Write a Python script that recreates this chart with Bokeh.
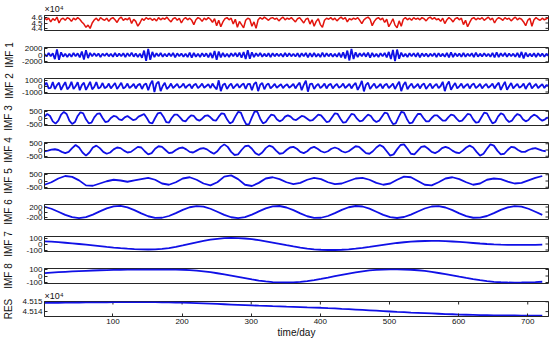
import math
from bokeh.plotting import figure
from bokeh.layouts import column
from bokeh.models import FixedTicker, Range1d
from bokeh.embed import file_html
from bokeh.resources import INLINE

# ---------------- data ----------------
days3 = list(range(1, 731, 3))    # 244 samples
days4 = list(range(1, 730, 4))    # 183 samples
days5 = list(range(1, 727, 5))    # 146 samples
days10 = list(range(1, 722, 10))  # 73 samples

signal = [  # x10^4
    4.60, 4.56, 4.59, 4.52, 4.58, 4.55, 4.61, 4.50, 4.57, 4.59,
    4.55, 4.60, 4.58, 4.53, 4.59, 4.56, 4.60, 4.57, 4.52, 4.48,
    4.42, 4.46, 4.40, 4.50, 4.56, 4.59, 4.54, 4.60, 4.57, 4.55,
    4.59, 4.53, 4.58, 4.60, 4.56, 4.51, 4.58, 4.61, 4.55, 4.58,
    4.56, 4.60, 4.49, 4.57, 4.53, 4.44, 4.50, 4.58, 4.55, 4.60,
    4.57, 4.59, 4.55, 4.58, 4.54, 4.60, 4.56, 4.59, 4.57, 4.61,
    4.56, 4.52, 4.58, 4.60, 4.55, 4.59, 4.50, 4.57, 4.60, 4.56,
    4.59, 4.55, 4.47, 4.56, 4.60, 4.58, 4.53, 4.59, 4.56, 4.60,
    4.57, 4.51, 4.58, 4.45, 4.55, 4.43, 4.52, 4.58, 4.60, 4.56,
    4.59, 4.48, 4.57, 4.42, 4.53, 4.47, 4.41, 4.55, 4.59, 4.57,
    4.44, 4.52, 4.40, 4.56, 4.60, 4.57, 4.61, 4.58, 4.55, 4.59,
    4.60, 4.57, 4.59, 4.54, 4.58, 4.61, 4.56, 4.59, 4.57, 4.60,
    4.56, 4.52, 4.58, 4.60, 4.55, 4.50, 4.57, 4.59, 4.48, 4.56,
    4.44, 4.53, 4.58, 4.47, 4.42, 4.55, 4.59, 4.57, 4.60, 4.56,
    4.59, 4.54, 4.58, 4.61, 4.57, 4.60, 4.52, 4.58, 4.56, 4.59,
    4.57, 4.60, 4.55, 4.49, 4.56, 4.59, 4.61, 4.57, 4.45, 4.53,
    4.58, 4.60, 4.56, 4.59, 4.51, 4.57, 4.43, 4.50, 4.58, 4.46,
    4.41, 4.54, 4.44, 4.57, 4.60, 4.56, 4.59, 4.55, 4.60, 4.57,
    4.59, 4.56, 4.60, 4.58, 4.54, 4.59, 4.61, 4.57, 4.60, 4.56,
    4.58, 4.53, 4.59, 4.49, 4.56, 4.60, 4.57, 4.52, 4.58, 4.60,
    4.56, 4.59, 4.47, 4.55, 4.43, 4.51, 4.58, 4.60, 4.56, 4.59,
    4.57, 4.60, 4.55, 4.58, 4.61, 4.56, 4.59, 4.50, 4.57, 4.60,
    4.58, 4.55, 4.60, 4.57, 4.59, 4.54, 4.58, 4.61, 4.56, 4.59,
    4.57, 4.52, 4.45, 4.55, 4.59, 4.44, 4.56, 4.60, 4.57, 4.55,
    4.59, 4.56, 4.58, 4.60,
]

imf1 = [
    300, -450, 600, -350, 500, -1200, 1600, -1400, 800, -500,
    400, -600, 350, -500, 600, -400, 500, -700, 1000, -1300,
    1400, -900, 600, -400, 500, -350, 450, -600, 400, -300,
    500, -400, 350, -500, 600, -450, 400, -350, 500, -600,
    550, -400, 700, -500, 450, -600, 400, -800, 1300, -1700,
    1800, -1400, 900, -600, 500, -400, 600, -500, 350, -450,
    500, -400, 600, -700, 500, -350, 450, -500, 400, -600,
    700, -800, 600, -500, 400, -600, 550, -450, 500, -700,
    600, -900, 1200, -1400, 1000, -700, 600, -500, 400, -600,
    500, -400, 600, -500, 700, -800, 900, -1200, 1400, -1100,
    800, -600, 500, -400, 600, -500, 400, -450, 500, -600,
    500, -400, 450, -350, 400, -500, 600, -450, 500, -400,
    350, -450, 500, -600, 500, -400, 600, -700, 550, -500,
    600, -500, 400, -600, 700, -550, 500, -400, 450, -500,
    400, -500, 600, -700, 800, -1000, 1300, -1600, 1800, -1200,
    800, -600, 500, -400, 600, -500, 700, -800, 600, -500,
    400, -600, 500, -400, 600, -700, 900, -1200, 1500, -1800,
    1600, -1100, 700, -500, 400, -600, 500, -400, 550, -500,
    600, -700, 500, -400, 450, -500, 400, -350, 500, -600,
    550, -450, 400, -500, 600, -700, 800, -600, 500, -400,
    450, -500, 600, -500, 400, -350, 500, -600, 700, -500,
    400, -450, 500, -400, 350, -500, 600, -700, 800, -600,
    500, -400, 600, -500, 450, -350, 400, -500, 600, -700,
    900, -1000, 700, -500, 400, -450, 500, -600, 500, -400,
    450, -500, 400, -300,
]

imf2 = [
    150, 550, -400, -300, 650, -500, 150, 550, -650, 50,
    650, -550, -150, 700, -500, -50, 650, -700, 150, 550,
    -650, 0, 700, -550, -150, 650, -400, -200, 500, -350,
    -150, 400, -400, 50, 500, -500, 0, 550, -400, -150,
    400, -350, -50, 350, -400, 150, 350, -500, 200, 400,
    -700, 300, 900, -1000, 400, 700, -850, 0, 550, -500,
    -150, 400, -350, 0, 350, -300, -50, 400, -350, 50,
    300, -400, 150, 350, -350, -50, 400, -300, 0, 300,
    -350, 400, -150, -550, 950, -850, 150, 400, -500, 50,
    400, -400, 0, 350, -300, 150, 400, -500, 300, 350,
    -700, 300, 650, -850, 200, 500, -550, 150, 400, -400,
    -50, 350, -300, 0, 300, -350, 50, 300, -300, 0,
    350, -400, 150, 550, -700, 200, 900, -950, 300, 400,
    -500, 50, 350, -350, -50, 400, -400, 150, 350, -400,
    50, 350, -300, -50, 400, -350, 0, 350, -400, 150,
    500, -650, 0, 850, -900, 200, 550, -500, 0, 400,
    -350, -50, 350, -400, 150, 350, -350, 0, 400, -500,
    150, 700, -850, 150, 650, -550, 0, 400, -350, -50,
    350, -400, 150, 400, -500, 0, 400, -400, 50, 350,
    -350, 0, 700, -850, 200, 750, -650, 0, 500, -400,
    -50, 400, -350, 50, 350, -400, 150, 400, -350, -50,
    350, -400, 50, 350, -300, 0, 400, -400, 150, 550,
    -650, 50, 700, -650, -50, 500, -400, 0, 350, -300,
    -50, 400, -500, 150, 500, -400, 0, 350, -350, 0,
    300, -350, 150, 50,
]

imf3 = [
    100, 300, 150, -250, -420, -200, 250, 450, 300, -200, -450, -300,
    150, 430, 350, -100, -400, -350, 50, 300, 350, 0, -300, -250,
    0, 150, 100, -100, -150, 50, 150, 0, -150, -100, 100, 200,
    300, 0, -350, -400, 0, 350, 400, 100, -300, -350, 0, 250,
    250, 50, -200, -250, 0, 200, 150, -100, -200, -50, 150, 200,
    50, -150, -200, 100, 350, 300, -100, -400, -300, 100, 450, 400,
    -100, -500, -450, 50, 500, 450, -50, -400, -300, 0, 250, 200,
    -100, -250, -150, 100, 200, 100, -100, -150, 0, 150, 100, -50,
    -200, -150, 50, 250, 200, -50, -300, -250, 50, 350, 300, -50,
    -350, -300, 0, 300, 250, -50, -250, -200, 50, 250, 150, -150,
    -300, -200, 100, 400, 350, -100, -450, -400, 50, 450, 400, -50,
    -400, -350, 0, 300, 300, 0, -250, -250, 0, 200, 200, 0,
    -200, -200, 50, 250, 200, -50, -250, -200, 50, 300, 250, -100,
    -350, -300, 50, 400, 350, -50, -400, -300, 100, 350, 250, -100,
    -300, -200, 100, 300, 200, -100, -250, -150, 100, 250, 150, -50,
    -200, -100, 50,
]

imf4 = [
    -100, -50, 30, 60, 0, -150, -250, -150,
    150, 400, 200, -200, -450, -200, 200, 350,
    150, -150, -300, -200, 50, 200, 150, -50,
    -200, -150, 50, 250, 200, -100, -350, -250,
    100, 300, 250, 0, -250, -200, 0, 150,
    200, 50, -150, -200, -50, 100, 150, 50,
    -150, -300, -100, 250, 450, 250, -150, -400,
    -350, 0, 300, 350, 100, -250, -400, -200,
    150, 350, 250, -50, -300, -250, 0, 200,
    250, 100, -150, -250, -100, 150, 250, 100,
    -100, -200, -100, 100, 200, 100, -100, -200,
    -100, 100, 300, 250, 0, -250, -300, -100,
    200, 400, 250, -100, -450, -350, 50, 400,
    450, 100, -300, -350, -50, 250, 300, 100,
    -150, -250, -100, 150, 250, 150, -50, -200,
    -250, -50, 200, 350, 200, -150, -450, -300,
    100, 450, 350, -50, -350, -300, 0, 250,
    200, 0, -150, -150, 0, 100, 150, 50,
    -50, -100,
]

imf5 = [
    -300, -100, 200, 400, 330, 50, -350, -380, -200, -20,
    100, 40, -60, 50, 150, 250, 100, -200, -300, -100,
    200, 300, 100, -200, -350, -100, 350, 450, 150, -300,
    -400, -150, 200, 300, 150, -100, -250, -150, 100, 250,
    150, -100, -250, -200, 0, 200, 250, 100, -150, -300,
    -200, 100, 350, 300, 0, -300, -350, -100, 200, 300,
    150, -100, -300, -200, 100, 200, 150, -50, -200, -150,
    50, 250, 400,
]

imf6 = [
    210, 130, 10, -115, -205, -245, -205, -105, 25, 145,
    225, 245, 185, 75, -55, -170, -235, -230, -160, -45,
    85, 190, 235, 215, 130, 10, -115, -210, -245, -205,
    -105, 25, 145, 225, 240, 180, 75, -55, -170, -235,
    -230, -160, -45, 85, 190, 240, 220, 135, 10, -115,
    -205, -240, -200, -105, 20, 140, 220, 235, 180, 75,
    -55, -165, -230, -225, -160, -45, 85, 185, 235, 215,
    130, 10, -115,
]

imf7 = [
    45, 38, 30, 21, 11, 0, -12, -24, -36, -48,
    -59, -69, -78, -85, -90, -92, -90, -82, -68, -48,
    -24, 2, 28, 52, 72, 87, 97, 101, 99, 92,
    80, 64, 45, 24, 2, -20, -41, -60, -76, -88,
    -96, -100, -100, -96, -88, -77, -63, -47, -30, -13,
    3, 17, 29, 39, 46, 50, 52, 51, 48, 42,
    35, 26, 17, 8, 0, -6, -11, -14, -16, -16,
    -15, -13, -10,
]

imf8 = [
    45, 52, 58, 64, 70, 75, 80, 84, 88, 91,
    94, 96, 98, 99, 100, 100, 100, 100, 100, 99,
    96, 90, 82, 72, 58, 42, 25, 7, -12, -32,
    -52, -70, -84, -94, -99, -100, -97, -90, -78, -62,
    -44, -24, -3, 18, 38, 56, 72, 85, 94, 99,
    101, 101, 100, 96, 88, 77, 63, 46, 28, 9,
    -11, -30, -48, -64, -78, -89, -96, -100, -101, -100,
    -97, -93, -88,
]

res = [  # x10^4
    4.51488, 4.51489, 4.51490, 4.51491, 4.51492, 4.51493, 4.51494, 4.51494, 4.51495, 4.51495,
    4.51496, 4.51496, 4.51496, 4.51496, 4.51496, 4.51496, 4.51496, 4.51495, 4.51494, 4.51493,
    4.51491, 4.51489, 4.51487, 4.51484, 4.51481, 4.51478, 4.51475, 4.51472, 4.51469, 4.51466,
    4.51463, 4.51460, 4.51458, 4.51455, 4.51453, 4.51450, 4.51448, 4.51446, 4.51443, 4.51441,
    4.51439, 4.51435, 4.51432, 4.51428, 4.51425, 4.51421, 4.51417, 4.51413, 4.51409, 4.51405,
    4.51401, 4.51397, 4.51394, 4.51390, 4.51387, 4.51384, 4.51381, 4.51378, 4.51375, 4.51373,
    4.51370, 4.51368, 4.51366, 4.51364, 4.51363, 4.51362, 4.51361, 4.51360, 4.51360, 4.51359,
    4.51359, 4.51359, 4.51359,
]

panel_names = ["", "IMF 1", "IMF 2", "IMF 3", "IMF 4", "IMF 5", "IMF 6", "IMF 7", "IMF 8", "RES"]
panel_ticks = [[4.4, 4.5, 4.6], [-2000, 0, 2000], [-1000, 0, 1000], [-500, 0, 500],
               [-500, 0, 500], [-500, 0, 500], [-200, 0, 200], [-100, 0, 100],
               [-100, 0, 100], [4.514, 4.515]]
panel_tick_labels = [["4.4", "4.5", "4.6"], ["-2000", "0", "2000"], ["-1000", "0", "1000"],
                     ["-500", "0", "500"], ["-500", "0", "500"], ["-500", "0", "500"],
                     ["-200", "0", "200"], ["-100", "0", "100"], ["-100", "0", "100"],
                     ["4.514", "4.515"]]
panel_limits = [(4.36, 4.64), (-2200, 2200), (-1250, 1250), (-560, 560), (-600, 600),
                (-600, 600), (-300, 300), (-125, 125), (-115, 115), (4.5135, 4.51503)]
scale_note = ["×10⁴", "", "", "", "", "", "", "", "", "×10⁴"]
x_ticks = [100, 200, 300, 400, 500, 600, 700]
x_limits = (1, 730)

series = [(days3, signal), (days3, imf1), (days3, imf2), (days4, imf3), (days5, imf4),
          (days10, imf5), (days10, imf6), (days10, imf7), (days10, imf8), (days10, res)]
for xs, ys in series:
    assert len(xs) == len(ys), (len(xs), len(ys))

# ---------------- layout / styling ----------------
FONT = "Liberation Sans"
BOX = "#262626"
TXT = "#111111"
RED = "#e3140d"
BLUE = "#1010e6"
FRAME_H = 15
frame_tops = [14, 46, 77, 109, 141, 172, 203, 235, 267, 298]   # page px
TICK_PX = 8
# approx. widths (px) of the widest tick label per panel at 8px, used to line up the names
label_w = [11, 20.5, 20.5, 16, 16, 16, 16, 16, 16, 20]

n = len(series)
top_b, bot_b = [0] * n, [0] * n
top_b[0] = frame_tops[0]
for i in range(n - 1):
    gap = frame_tops[i + 1] - (frame_tops[i] + FRAME_H)
    bot_b[i] = gap // 2
    top_b[i + 1] = gap - gap // 2
# room for the "x10^4" title above the RES panel
bot_b[n - 2] -= 3
top_b[n - 1] += 3
bot_b[-1] = 21

figs = []
for i, ((xs, ys), name, ticks, tlabs, lim) in enumerate(
        zip(series, panel_names, panel_ticks, panel_tick_labels, panel_limits)):
    last = (i == n - 1)
    p = figure(frame_width=504, frame_height=FRAME_H,
               x_range=Range1d(*x_limits), y_range=Range1d(*lim),
               x_axis_location="below" if last else None,
               output_backend="svg", toolbar_location=None,
               min_border_left=41, min_border_right=5,
               min_border_top=top_b[i], min_border_bottom=bot_b[i],
               background_fill_color="white", border_fill_color="white")
    p.xgrid.visible = False
    p.ygrid.visible = False
    p.outline_line_color = BOX
    p.outline_line_width = 1

    if scale_note[i]:
        p.title.text = scale_note[i]
        p.title.text_font = FONT
        p.title.text_font_size = "9px"
        p.title.text_font_style = "normal"
        p.title.text_color = TXT
        p.title.standoff = 3 if i == 0 else 1
        p.title.align = "left"

    ya = p.yaxis[0]
    ya.ticker = FixedTicker(ticks=ticks)
    ya.major_label_overrides = {t: s for t, s in zip(ticks, tlabs)}
    ya.major_label_text_font = FONT
    ya.major_label_text_font_size = f"{TICK_PX}px"
    ya.major_label_text_color = TXT
    ya.major_label_standoff = 2
    ya.major_tick_in = 3
    ya.major_tick_out = 0
    ya.minor_tick_line_color = None
    ya.axis_line_color = BOX
    ya.major_tick_line_color = BOX
    if name:
        ya.axis_label = name
        ya.axis_label_text_font = FONT
        ya.axis_label_text_font_size = "10px"
        ya.axis_label_text_font_style = "normal"
        ya.axis_label_text_color = TXT
        ya.axis_label_standoff = int(round(25 - label_w[i]))

    # mirrored inward ticks on the right edge
    p.ray(x=[x_limits[1]] * len(ticks), y=ticks, length=3, angle=math.pi,
          length_units="screen", line_color=BOX, line_width=1)

    if last:
        xa = p.xaxis[0]
        xa.ticker = FixedTicker(ticks=x_ticks)
        xa.axis_label = "time/day"
        xa.axis_label_text_font = FONT
        xa.axis_label_text_font_size = "10px"
        xa.axis_label_text_font_style = "normal"
        xa.axis_label_text_color = TXT
        xa.axis_label_standoff = 0
        xa.major_label_text_font = FONT
        xa.major_label_text_font_size = f"{TICK_PX}px"
        xa.major_label_text_color = TXT
        xa.major_label_standoff = 2
        xa.major_tick_in = 3
        xa.major_tick_out = 0
        xa.minor_tick_line_color = None
        xa.axis_line_color = BOX
        xa.major_tick_line_color = BOX
        p.ray(x=x_ticks, y=[lim[1]] * len(x_ticks), length=3, angle=-math.pi / 2,
              length_units="screen", line_color=BOX, line_width=1)

    color = RED if i == 0 else BLUE
    p.line(xs, ys, line_color=color, line_width=1.5 if i == 0 else 1.8)
    figs.append(p)

layout = column(*figs, spacing=0)
open("out.html", "w").write(file_html(layout, INLINE))
